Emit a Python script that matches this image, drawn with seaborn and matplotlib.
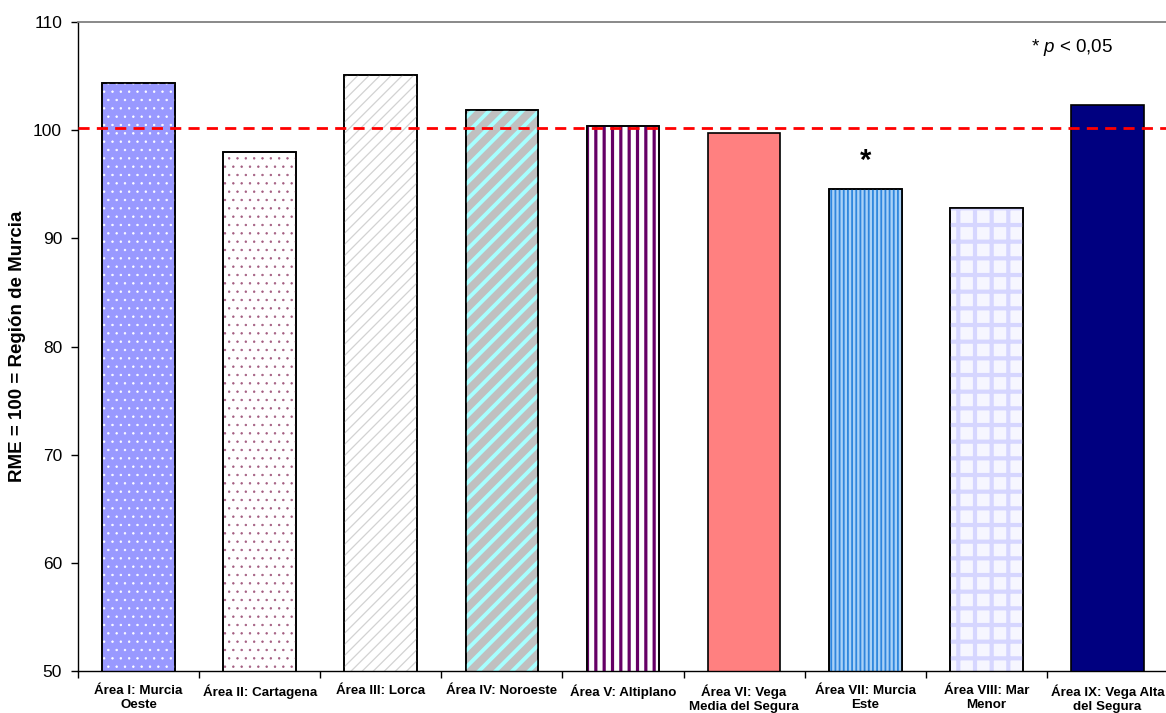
import matplotlib
matplotlib.use("Agg")
import matplotlib.pyplot as plt
import matplotlib.patches as mpatches
from matplotlib.ticker import FixedLocator
import seaborn as sns
import numpy as np

# ---- data ----
categories = [
    "Área I: Murcia\nOeste",
    "Área II: Cartagena",
    "Área III: Lorca",
    "Área IV: Noroeste",
    "Área V: Altiplano",
    "Área VI: Vega\nMedia del Segura",
    "Área VII: Murcia\nEste",
    "Área VIII: Mar\nMenor",
    "Área IX: Vega Alta\ndel Segura",
]
rme_values = [104.4, 98.0, 105.1, 101.9, 100.4, 99.7, 94.6, 92.8, 102.3]
reference_value = 100.2
significant = [False, False, False, False, False, False, True, False, False]
y_ticks = [50, 60, 70, 80, 90, 100, 110]

# ---- styles ----
fill_colors = ["#9999FF", "#FFFFFF", "#FFFFFF", "#C0C0C0", "#FFFFFF",
               "#FF8080", "#A9D1F7", "#F6F6FF", "#000080"]
hatches = ["..", "..", "///", "//", "||", None, "||||", "+", None]
hatch_colors = ["#FFFFFF", "#A35C80", "#D2D2D2", "#A6FFFF", "#660066",
                None, "#2F86DD", "#D6D6FF", None]
hatch_widths = [0.5, 0.5, 0.9, 2.8, 2.3, 0, 1.3, 3.0, 0]

sns.set_style("white")
plt.rcParams["font.family"] = ["Liberation Sans", "DejaVu Sans"]
plt.rcParams["mathtext.fontset"] = "custom"
plt.rcParams["mathtext.it"] = "Liberation Sans:italic"
plt.rcParams["mathtext.rm"] = "Liberation Sans"
plt.rcParams["text.color"] = "black"
plt.rcParams["axes.labelcolor"] = "black"
plt.rcParams["xtick.color"] = "black"
plt.rcParams["ytick.color"] = "black"

W, H = 1166, 713
fig = plt.figure(figsize=(W / 100, H / 100), dpi=100)
ax = fig.add_axes([78 / W, (H - 671) / H, (1168 - 78) / W, (671 - 22) / H])

sns.barplot(x=categories, y=rme_values, hue=categories, palette=fill_colors,
            legend=False, width=0.6, saturation=1, edgecolor="black",
            linewidth=1.2, ax=ax)

bars = list(ax.patches)
for p, h, hc, hw in zip(bars, hatches, hatch_colors, hatch_widths):
    if h is None:
        continue
    with plt.rc_context({"hatch.linewidth": hw}):
        r = mpatches.Rectangle(p.get_xy(), p.get_width(), p.get_height(),
                               facecolor="none", edgecolor=hc, hatch=h,
                               linewidth=0, zorder=p.get_zorder() + 0.1)
        if hasattr(r, "set_hatch_linewidth"):
            r.set_hatch_linewidth(hw)
    ax.add_patch(r)
    e = mpatches.Rectangle(p.get_xy(), p.get_width(), p.get_height(),
                           facecolor="none", edgecolor="black",
                           linewidth=1.2, zorder=p.get_zorder() + 0.2)
    ax.add_patch(e)

ax.axhline(reference_value, color="#FF0000", linestyle=(0, (4, 2.6)),
           linewidth=2, zorder=5)

for i, (v, s) in enumerate(zip(rme_values, significant)):
    if s:
        ax.text(i, v + 1.3, "*", ha="center", va="bottom", fontsize=21,
                fontweight="bold", color="black")

ax.text(7.71, 107.6, r"* $p$ < 0,05", ha="center", va="center", fontsize=13.5,
        color="black")

ax.set_ylim(50, 110)
ax.set_xlim(-0.5, len(categories) - 0.5)
ax.set_yticks(y_ticks)
ax.set_ylabel("RME = 100 = Región de Murcia", fontsize=13.5, fontweight="bold",
              labelpad=5, color="black")
ax.set_xlabel("")

ax.tick_params(axis="y", which="major", direction="out", length=5, width=1,
               labelsize=12.5, left=True, pad=6.5, color="black",
               labelcolor="black")
ax.tick_params(axis="x", which="major", length=0, labelsize=9.6, pad=10,
               labelcolor="black")
ax.xaxis.set_minor_locator(FixedLocator(np.arange(-0.5, len(categories) + 0.5, 1.0)))
ax.tick_params(axis="x", which="minor", direction="out", length=5, width=1,
               bottom=True, color="black")
for lab in ax.get_xticklabels():
    lab.set_fontweight("bold")
    lab.set_linespacing(1.2)
    lab.set_verticalalignment("top")

for side in ["left", "bottom"]:
    ax.spines[side].set_color("black")
    ax.spines[side].set_linewidth(1.0)
ax.spines["top"].set_color("#808080")
ax.spines["top"].set_linewidth(1.3)
ax.spines["right"].set_visible(False)
ax.grid(False)

fig.savefig("out.png", dpi=100)
